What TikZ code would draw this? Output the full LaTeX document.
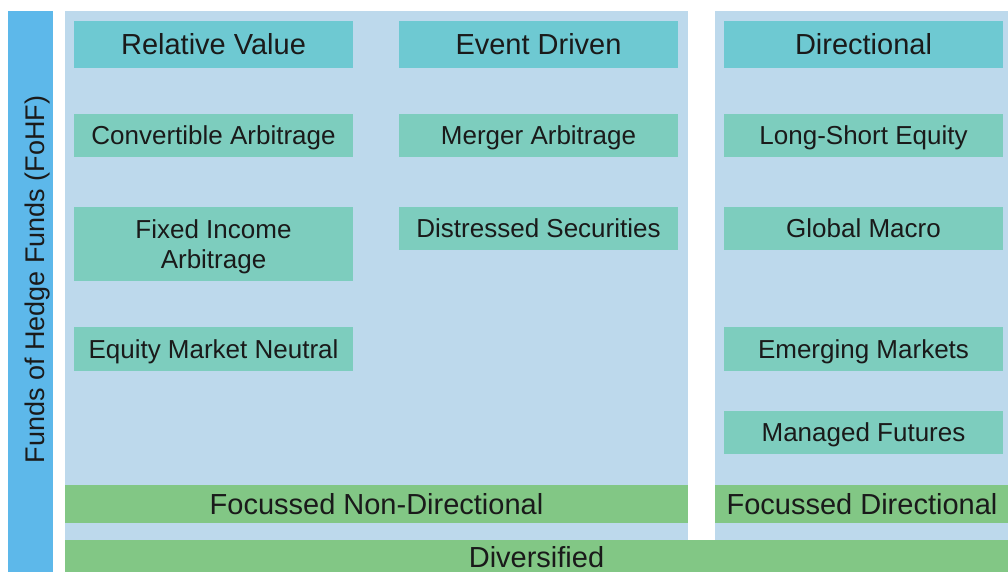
\documentclass[tikz,border=0pt]{standalone}
\usepackage{fontspec}
\setmainfont{Liberation Sans}
\definecolor{panelblue}{HTML}{BDD9EC}
\definecolor{barblue}{HTML}{5DB8EA}
\definecolor{headteal}{HTML}{6EC9D2}
\definecolor{itemteal}{HTML}{7DCDBE}
\definecolor{bargreen}{HTML}{82C785}
\definecolor{txt}{HTML}{1A1A1A}
\tikzset{
  area/.style={fill=#1, draw=none, inner sep=0pt},
  headbox/.style={fill=headteal, draw=none, inner sep=0pt, minimum width=279pt, minimum height=47pt, text=txt, text height=20.8pt, text depth=0pt, font=\fontsize{29}{34}\selectfont},
  itembox/.style={fill=itemteal, draw=none, inner sep=0pt, minimum width=279pt, minimum height=43pt, text=txt, text height=18.6pt, text depth=0pt, font=\fontsize{26}{30}\selectfont},
  barlabel/.style={text=txt, font=\fontsize{29}{34}\selectfont, inner sep=0pt, text height=20.8pt, text depth=0pt},
}
\begin{document}
\begin{tikzpicture}[x=1pt,y=-1pt]
\useasboundingbox (0,0) rectangle (1008,572);
\clip (0,0) rectangle (1008,572);
\fill[white] (0,0) rectangle (1008,572);
% panels
\fill[barblue] (8,11) rectangle (53,600);
\node[area=panelblue, minimum width=623pt, minimum height=529pt] (leftpanel) at (376.5,275.5) {};
\node[area=panelblue, minimum width=313pt, minimum height=529pt] (rightpanel) at (871.5,275.5) {};
% bars
\node[area=bargreen, minimum width=623pt, minimum height=38pt] (fnd) at (376.5,504) {};
\node[barlabel] at (fnd.center) {Focussed Non-Directional};
\node[area=bargreen, minimum width=313pt, minimum height=38pt] (fd) at (871.5,504) {};
\node[barlabel, anchor=center] at (862,504) {Focussed Directional};
\node[area=bargreen, minimum width=963pt, minimum height=60pt] (div) at (546.5,570) {};
\node[barlabel, anchor=base] (divlab) at (536.5,567) {Diversified};
% vertical label
\node[rotate=90, text=txt, font=\fontsize{27}{32}\selectfont, inner sep=0pt, anchor=base] (fohf) at (44,279.5) {Funds of Hedge Funds (FoHF)};
% headers
\node[headbox] (rv) at (213.5,44.5) {Relative Value};
\node[headbox] (ed) at (538.5,44.5) {Event Driven};
\node[headbox] (dir) at (863.5,44.5) {Directional};
% items
\node[itembox] (ca) at (213.5,135.5) {Convertible Arbitrage};
\node[itembox] (ma) at (538.5,135.5) {Merger Arbitrage};
\node[itembox] (lse) at (863.5,135.5) {Long-Short Equity};
\node[itembox, minimum height=74pt, text height=18pt, text depth=30pt] (fia) at (213.5,244) {\parbox[t]{279pt}{\centering\fontsize{26}{30}\selectfont Fixed Income\\Arbitrage}};
\node[itembox] (ds) at (538.5,228.5) {Distressed Securities};
\node[itembox] (gm) at (863.5,228.5) {Global Macro};
\node[itembox, minimum height=44pt] (emn) at (213.5,349) {Equity Market Neutral};
\node[itembox, minimum height=44pt] (em) at (863.5,349) {Emerging Markets};
\node[itembox] (mf) at (863.5,432.5) {Managed Futures};
\end{tikzpicture}
\end{document}
